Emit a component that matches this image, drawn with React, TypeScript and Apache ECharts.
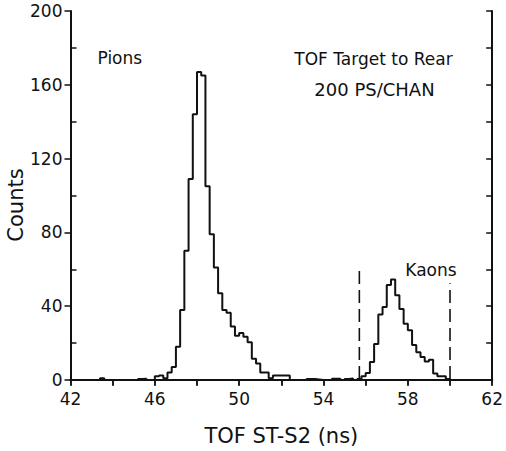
import React, { useEffect, useRef } from "react";
import * as echarts from "echarts";

// Histogram: 200 ps bins starting at 42.0 ns
const binStart = 42.0;
const binWidth = 0.2;
const counts: number[] = [
  // 42.0 - 43.8
  0, 0, 0, 0, 0, 0, 0, 1, 0, 0,
  // 44.0 - 45.8
  0, 0, 0, 0, 0, 0, 0.5, 0.7, 0, 0,
  // 46.0 - 47.8
  2, 2.5, 1, 4, 7, 18, 38, 70, 109, 144,
  // 48.0 - 49.8
  167, 165, 105, 79, 61, 47, 38, 36.5, 29, 24,
  // 50.0 - 51.8
  25.5, 23.5, 20.5, 11.5, 9, 4, 4, 1, 2.5, 2.5,
  // 52.0 - 53.8
  2.5, 2.5, 0, 0, 0, 0, 0.5, 0.5, 0.3, 0,
  // 54.0 - 55.8
  0, 0, 0.7, 0.7, 0, 0.5, 0.8, 0, 0.5, 2,
  // 56.0 - 57.8
  3.8, 9.8, 19.5, 35.5, 39.5, 51.5, 54.5, 46, 38.5, 30.5,
  // 58.0 - 59.8
  27, 19, 15, 12.5, 10, 11, 3.5, 2, 2, 0.5,
  // 60.0 - 61.8
  0, 0, 0, 0, 0, 0, 0, 0, 0, 0,
];

const xTickLabels = [42, 46, 50, 54, 58, 62];
const yTickLabels = [0, 40, 80, 120, 160, 200];
const yMinorTicks = [20, 60, 100, 140, 180];

// Kaon window (dashed cut lines)
const cutLow: [number, number][] = [[55.7, 0.5], [55.7, 61.5]];
const cutHigh: [number, number][] = [[60.0, 0.5], [60.0, 52.5]];

const FONT = "DejaVu Sans";
const INK = "#111";

export default function App() {
  const ref = useRef<HTMLDivElement>(null);

  useEffect(() => {
    if (!ref.current) return;
    const chart = echarts.init(ref.current, undefined, { renderer: "svg" });

    const hist: [number, number][] = counts.map((c, i) => [
      +(binStart + i * binWidth).toFixed(2),
      c,
    ]);
    hist.push([+(binStart + counts.length * binWidth).toFixed(2), counts[counts.length - 1]]);

    const axisLine = { show: true, lineStyle: { color: INK, width: 2 } };
    const tickStyle = { color: INK, width: 1.5 };

    chart.setOption({
      animation: false,
      backgroundColor: "#fff",
      grid: { left: 70.5, top: 11, width: 424, height: 374, containLabel: false },
      xAxis: [
        {
          type: "value",
          position: "bottom",
          min: 42,
          max: 62,
          interval: 4,
          axisLine,
          axisTick: { show: true, inside: false, length: 6, lineStyle: tickStyle },
          minorTick: { show: true, splitNumber: 2, length: 6, lineStyle: tickStyle },
          splitLine: { show: false },
          minorSplitLine: { show: false },
          axisLabel: {
            show: true,
            margin: 10,
            fontFamily: FONT,
            fontSize: 17,
            color: INK,
            customValues: xTickLabels,
          },
          name: "TOF ST-S2 (ns)",
          nameLocation: "middle",
          nameGap: 45,
          nameTextStyle: { fontFamily: FONT, fontSize: 21, color: INK },
        },
        {
          type: "value",
          position: "top",
          min: 42,
          max: 62,
          interval: 2,
          axisLine,
          axisTick: { show: true, inside: true, length: 5, lineStyle: tickStyle },
          axisLabel: { show: false },
          splitLine: { show: false },
        },
      ],
      yAxis: [
        {
          type: "value",
          position: "left",
          min: 0,
          max: 200,
          interval: 40,
          axisLine,
          axisTick: { show: true, inside: false, length: 6, lineStyle: tickStyle },
          splitLine: { show: false },
          axisLabel: {
            show: true,
            margin: 8,
            fontFamily: FONT,
            fontSize: 17,
            color: INK,
            customValues: yTickLabels,
          },
        },
        {
          type: "value",
          position: "left",
          min: 0,
          max: 200,
          interval: 20,
          axisLine: { show: false },
          axisTick: {
            show: true,
            inside: true,
            length: 6,
            lineStyle: tickStyle,
            customValues: yMinorTicks,
          },
          axisLabel: { show: false },
          splitLine: { show: false },
        },
        {
          type: "value",
          position: "right",
          min: 0,
          max: 200,
          interval: 20,
          axisLine,
          axisTick: { show: true, inside: true, length: 6, lineStyle: tickStyle },
          axisLabel: { show: false },
          splitLine: { show: false },
        },
      ],
      series: [
        {
          type: "line",
          xAxisIndex: 0,
          yAxisIndex: 0,
          data: hist,
          step: "end",
          symbol: "none",
          lineStyle: { color: INK, width: 2 },
          silent: true,
        },
        {
          type: "line",
          xAxisIndex: 0,
          yAxisIndex: 0,
          data: cutLow,
          symbol: "none",
          lineStyle: { color: INK, width: 1.6, type: [13, 6] },
          silent: true,
        },
        {
          type: "line",
          xAxisIndex: 0,
          yAxisIndex: 0,
          data: cutHigh,
          symbol: "none",
          lineStyle: { color: INK, width: 1.6, type: [13, 6] },
          silent: true,
        },
      ],
      graphic: [
        {
          type: "text",
          x: 16,
          y: 205,
          rotation: Math.PI / 2,
          style: {
            text: "Counts",
            fontFamily: FONT,
            fontSize: 21,
            fill: INK,
            align: "center",
            verticalAlign: "middle",
          },
        },
        {
          type: "text",
          x: 97.5,
          y: 58,
          style: {
            text: "Pions",
            fontFamily: FONT,
            fontSize: 17,
            fill: INK,
            align: "left",
            verticalAlign: "middle",
          },
        },
        {
          type: "text",
          x: 373.5,
          y: 58.5,
          style: {
            text: "TOF Target to Rear",
            fontFamily: FONT,
            fontSize: 17,
            fill: INK,
            align: "center",
            verticalAlign: "middle",
          },
        },
        {
          type: "text",
          x: 374.5,
          y: 89.5,
          style: {
            text: "200 PS/CHAN",
            fontFamily: FONT,
            fontSize: 18,
            fill: INK,
            align: "center",
            verticalAlign: "middle",
          },
        },
        {
          type: "text",
          x: 431,
          y: 269.5,
          style: {
            text: "Kaons",
            fontFamily: FONT,
            fontSize: 17,
            fill: INK,
            align: "center",
            verticalAlign: "middle",
          },
        },
      ],
    });

    return () => chart.dispose();
  }, []);

  return (
    <div
      ref={ref}
      style={{ position: "fixed", left: 0, top: 0, width: 506, height: 451, background: "#fff" }}
    />
  );
}
